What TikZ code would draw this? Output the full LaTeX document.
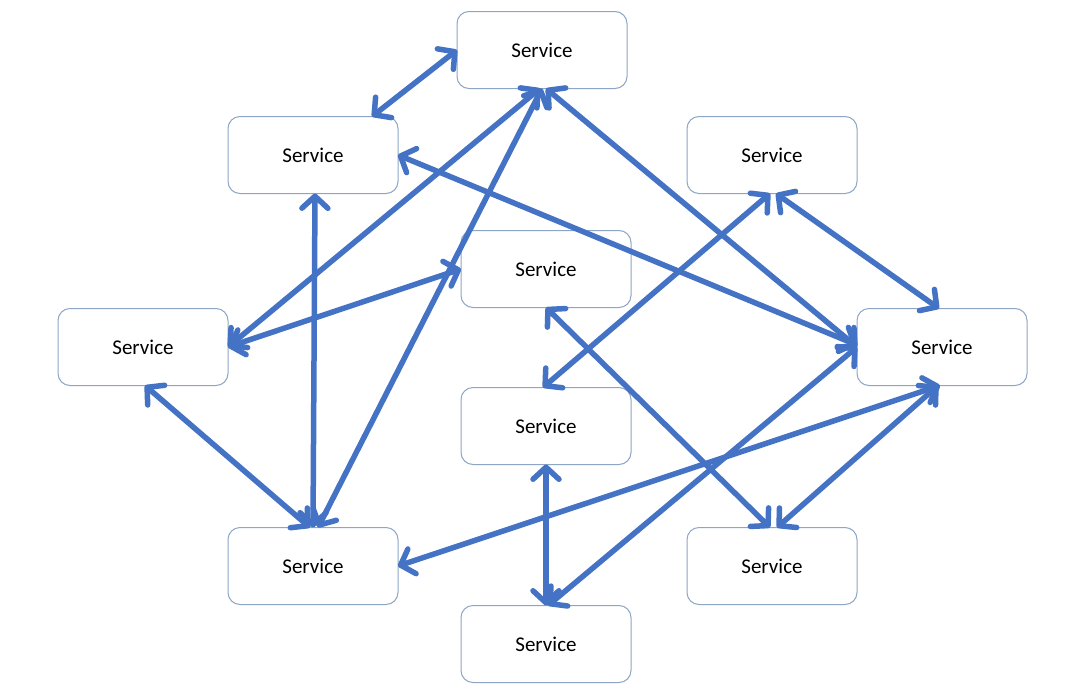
\documentclass[tikz,border=0pt]{standalone}
\usepackage{fontspec}
\setmainfont{Carlito}
\usetikzlibrary{arrows.meta}
\definecolor{arrowblue}{HTML}{4472C4}
\definecolor{boxline}{HTML}{8EA6C6}
\begin{document}
\begin{tikzpicture}[x=1pt,y=-1pt,
  svc/.style={draw=boxline, line width=1pt, rounded corners=12pt,
    minimum width=170pt, minimum height=77pt, inner sep=0pt, outer sep=0pt,
    font=\fontsize{21}{25}\selectfont},
  link/.style={draw=arrowblue, line width=5.5pt, line cap=round,
    {Straight Barb[length=12pt,width=26pt,round]}-{Straight Barb[length=12pt,width=26pt,round]}}]
\fill[white] (0,0) rectangle (1080,691);
\useasboundingbox (0,0) rectangle (1080,691);

\node[svc] (top) at (542,50) {Service};
\node[svc] (ul)  at (313,155) {Service};
\node[svc] (ur)  at (772,155) {Service};
\node[svc] (mc)  at (546,269) {Service};
\node[svc] (lft) at (143,347) {Service};
\node[svc] (rgt) at (942,347) {Service};
\node[svc] (mlc) at (546,426) {Service};
\node[svc] (ll)  at (313,566) {Service};
\node[svc] (lr)  at (772,566) {Service};
\node[svc] (bot) at (546,644) {Service};

\draw[link] (top.west) -- ([xshift=59pt]ul.north);
\draw[link] ([xshift=-2pt]top.south) -- (lft.east);
\draw[link] (top.south) -- ([xshift=5pt]ll.north);
\draw[link] ([xshift=4pt]top.south) -- (rgt.west);
\draw[link] (ul.east) -- ([yshift=2pt]rgt.west);
\draw[link] ([xshift=2pt]ul.south) -- (ll.north);
\draw[link] (lft.east) -- (mc.west);
\draw[link] ([xshift=2pt]lft.south) -- ([xshift=-3pt]ll.north);
\draw[link] ([xshift=-2pt]ur.south) -- ([xshift=-3pt]mlc.north);
\draw[link] ([xshift=4pt]ur.south) -- ([xshift=-3pt]rgt.north);
\draw[link] (mc.south) -- ([xshift=-2pt]lr.north);
\draw[link] (mlc.south) -- (bot.north);
\draw[link] (rgt.west) -- ([xshift=2pt]bot.north);
\draw[link] ([xshift=-2pt]rgt.south) -- (ll.east);
\draw[link] ([xshift=-4pt]rgt.south) -- ([xshift=5pt]lr.north);
\end{tikzpicture}
\end{document}
